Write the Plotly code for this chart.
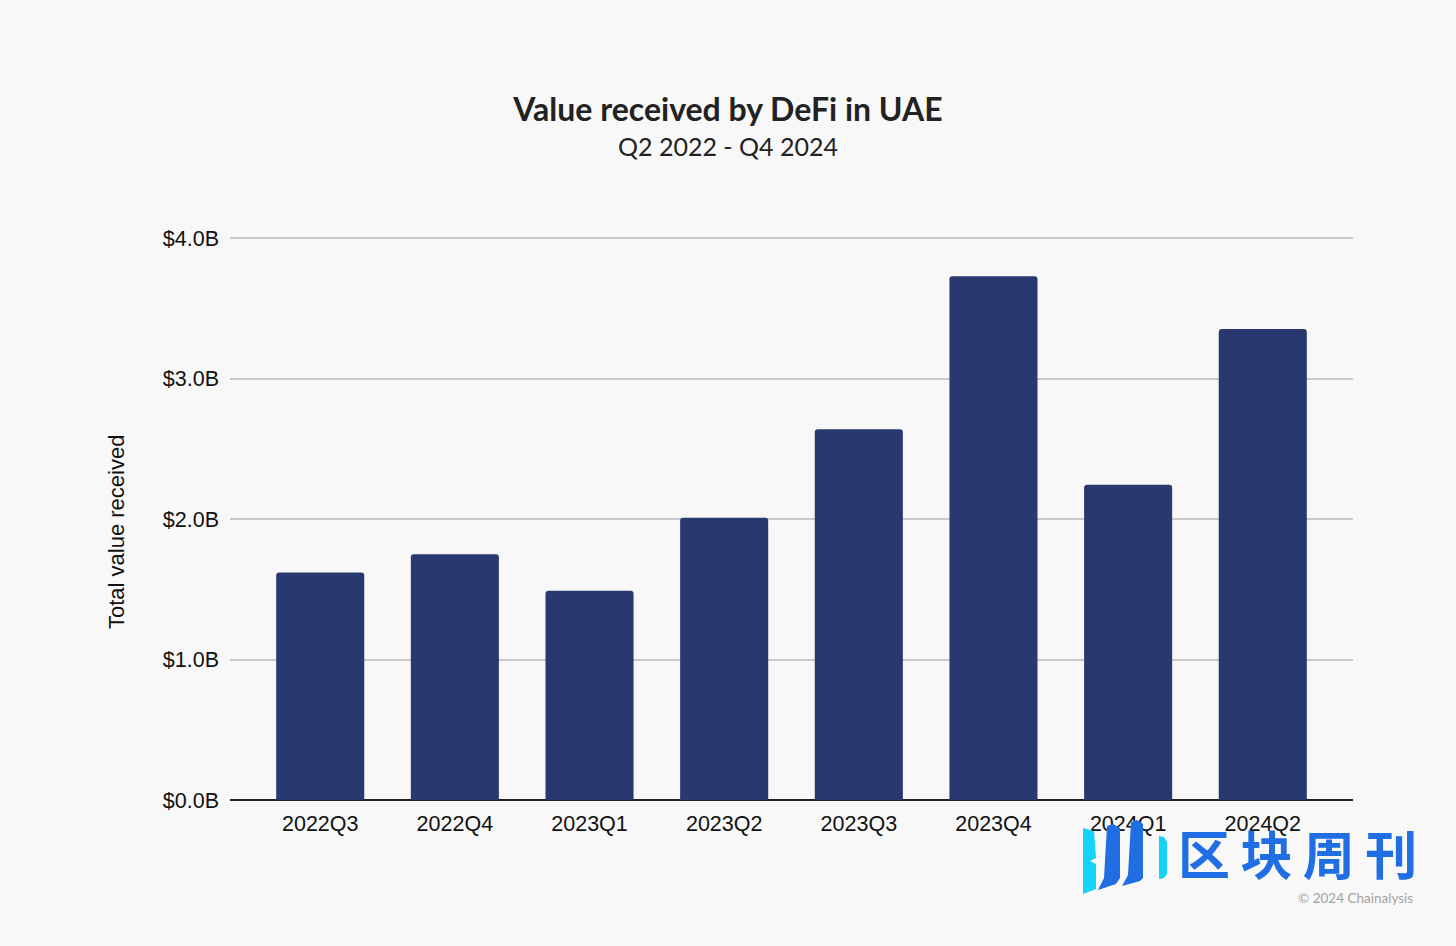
import plotly.graph_objects as go

# chart data, values in billions of USD
quarters = ["2022Q3", "2022Q4", "2023Q1", "2023Q2", "2023Q3", "2023Q4", "2024Q1", "2024Q2"]
value_received = [1.62, 1.75, 1.49, 2.01, 2.64, 3.73, 2.245, 3.355]
y_ticks = [0, 1, 2, 3, 4]
y_tick_labels = ["$0.0B", "$1.0B", "$2.0B", "$3.0B", "$4.0B"]

W, H = 1456, 946
PLOT_L, PLOT_R, PLOT_T, PLOT_B = 230, 1353, 237, 800
BG = "#f8f8f8"
TICK_FONT = dict(family="Liberation Sans", size=21.5, color="#111111")


def px_x(x):
    # page pixel to paper fraction
    return (x - PLOT_L) / (PLOT_R - PLOT_L)


def px_y(y):
    return (PLOT_B - y) / (PLOT_B - PLOT_T)


def poly(points, color):
    # watermark shapes, given in page pixels
    path = "M " + " L ".join(f"{px_x(x)},{px_y(y)}" for x, y in points) + " Z"
    return dict(type="path", path=path, xref="paper", yref="paper",
                fillcolor=color, line=dict(width=0), layer="above")


def note(text, x, y, font, xanchor="center", angle=0):
    fig.add_annotation(text=text, xref="paper", yref="paper", x=px_x(x), y=px_y(y), xanchor=xanchor,
                       yanchor="middle", showarrow=False, font=font, textangle=angle)


fig = go.Figure(go.Bar(x=quarters, y=value_received, marker=dict(color="#29386f", line=dict(width=0)), width=0.654))

fig.update_layout(
    width=W, height=H,
    margin=dict(l=PLOT_L, r=W - PLOT_R, t=PLOT_T, b=H - PLOT_B),
    paper_bgcolor=BG, plot_bgcolor=BG,
    barcornerradius=3,
    showlegend=False,
    title=dict(
        text="<b>Value received by DeFi in UAE</b>",
        x=0.5, xanchor="center", xref="container", y=1 - 110 / H, yanchor="middle", yref="container",
        font=dict(family="Lato", size=32, color="#222222"),
    ),
)
fig.update_xaxes(
    type="category", categoryorder="array", categoryarray=quarters,
    range=[-0.67, 7.67], showgrid=False, showline=False, ticks="",
    tickfont=TICK_FONT, ticklabelstandoff=8,
)
fig.update_yaxes(
    range=[0, 4.01], tickmode="array", tickvals=y_ticks, ticktext=y_tick_labels,
    tickfont=TICK_FONT, gridcolor="#c9c9c9", gridwidth=1.5,
    zeroline=True, zerolinecolor="#222222", zerolinewidth=1.5,
    ticks="", showline=False, ticklabelstandoff=10,
)

note("Q2 2022 - Q4 2024", 728, 146, dict(family="Lato", size=25, color="#222222"))
note("Total value received", 116, 532, dict(family="Liberation Sans", size=22, color="#111111"), angle=-90)
# the watermark that sits over the corner of the picture
note("<b>区\u2009块\u2009周\u2009刊</b>", 1297, 853, dict(family="Noto Sans CJK SC", size=52, color="#1f6ee4"))
note("© 2024 Chainalysis", 1415, 898, dict(family="Lato", size=13.5, color="#a3a3a3"), xanchor="right")

fig.update_layout(shapes=[
    poly([(1083, 828), (1094, 831), (1096, 858), (1090, 861), (1096, 864), (1096, 889), (1083, 894)], "#12d3fa"),
    poly([(1107, 826), (1113, 824), (1120, 828), (1120, 878), (1116, 884), (1098, 890), (1104, 878)], "#1f6ee4"),
    poly([(1131, 822), (1137, 820), (1143, 824), (1143, 878), (1140, 881), (1122, 886), (1128, 875)], "#1f6ee4"),
    poly([(1159, 836), (1164, 837), (1167, 842), (1167, 874), (1164, 878), (1159, 879)], "#12d3fa"),
])

fig.write_html("out.html", config=dict(displayModeBar=False), post_script="document.body.style.margin='0';")
